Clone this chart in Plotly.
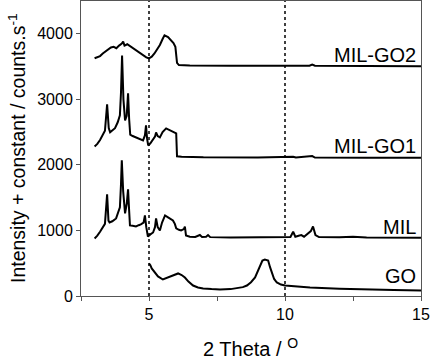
import plotly.graph_objects as go

# ---- data ----
gtheta_go2 = [3.0, 3.1, 3.2, 3.3, 3.45, 3.6, 3.7, 3.8, 3.9, 4.0, 4.05, 4.1, 4.2, 4.3, 4.4, 4.5, 4.6, 4.7, 4.8, 4.9,
              5.0, 5.1, 5.2, 5.3, 5.4, 5.5, 5.57, 5.7, 5.8, 5.9, 5.97, 6.03, 6.1, 6.5, 8.0, 10.0, 10.9, 11.0, 11.1, 13.0, 15.0]
inten_go2 = [3626, 3640, 3660, 3700, 3740, 3790, 3800, 3780, 3820, 3850, 3880, 3820, 3840, 3810, 3790, 3760, 3720, 3690, 3660, 3640,
             3626, 3650, 3700, 3760, 3830, 3920, 3977, 3950, 3910, 3860, 3800, 3555, 3522, 3515, 3512, 3510, 3512, 3530, 3512, 3508, 3505]

gtheta_go1 = [3.0, 3.1, 3.2, 3.3, 3.38, 3.46, 3.52, 3.57, 3.65, 3.75, 3.85, 3.93, 3.97, 4.01, 4.06, 4.12, 4.18, 4.23, 4.27, 4.31,
              4.4, 4.5, 4.6, 4.7, 4.78, 4.85, 4.89, 4.93, 4.97, 5.05, 5.15, 5.22, 5.26, 5.32, 5.4, 5.5, 5.63, 5.75, 5.88, 6.0,
              6.03, 6.2, 7.0, 9.0, 10.3, 10.4, 11.0, 11.1, 13.0, 15.0]
inten_go1 = [2281, 2320, 2380, 2450, 2520, 2923, 2560, 2496, 2520, 2560, 2650, 2756, 3100, 3670, 3000, 2679, 2750, 3092, 2700, 2460,
             2440, 2420, 2404, 2390, 2374, 2450, 2603, 2400, 2297, 2330, 2380, 2430, 2496, 2440, 2420, 2500, 2557, 2530, 2496, 2481,
             2130, 2125, 2115, 2112, 2125, 2112, 2135, 2112, 2110, 2108]

gtheta_mil = [3.0, 3.1, 3.2, 3.3, 3.38, 3.46, 3.51, 3.55, 3.65, 3.79, 3.88, 3.93, 3.97, 4.0, 4.05, 4.12, 4.18, 4.23, 4.27, 4.3,
              4.4, 4.52, 4.62, 4.7, 4.8, 4.85, 4.9, 4.96, 5.05, 5.15, 5.22, 5.26, 5.32, 5.4, 5.48, 5.59, 5.7, 5.8, 5.88, 5.95,
              6.0, 6.1, 6.18, 6.28, 6.32, 6.36, 6.5, 6.7, 6.87, 6.95, 7.1, 7.17, 7.25, 8.0, 9.0, 10.0, 10.2, 10.3, 10.38, 10.5,
              10.6, 10.7, 10.85, 10.95, 11.03, 11.12, 11.25, 12.0, 12.5, 13.0, 15.0]
inten_mil = [878, 920, 980, 1046, 1100, 1550, 1150, 1122, 1140, 1183, 1280, 1351, 1700, 2069, 1600, 1260, 1400, 1626, 1300, 1076,
             1070, 1061, 1080, 1092, 1120, 1229, 1050, 908, 940, 969, 1050, 1183, 1050, 1000, 1120, 1229, 1200, 1180, 1153, 1100,
             1031, 1010, 1000, 1020, 1060, 924, 905, 900, 930, 900, 905, 930, 898, 893, 892, 893, 900, 980, 905, 920,
             930, 905, 960, 990, 1061, 930, 900, 895, 905, 893, 890]

gtheta_go = [5.0, 5.05, 5.1, 5.2, 5.33, 5.51, 5.7, 5.85, 6.07, 6.2, 6.32, 6.45, 6.62, 6.8, 6.99, 7.3, 7.61, 8.0, 8.24, 8.45,
             8.6, 8.75, 8.9, 9.0, 9.08, 9.17, 9.26, 9.38, 9.45, 9.52, 9.6, 9.7, 9.85, 10.0, 10.5, 10.92, 12.0, 12.76, 14.0, 15.0]
inten_go = [496, 470, 420, 360, 298, 252, 280, 313, 344, 320, 282, 220, 160, 130, 115, 105, 99, 105, 115, 135,
            160, 210, 282, 380, 466, 540, 557, 542, 440, 344, 260, 206, 175, 160, 140, 130, 110, 99, 90, 84]

series_names = ["MIL-GO2", "MIL-GO1", "MIL", "GO"]
series_x = [gtheta_go2, gtheta_go1, gtheta_mil, gtheta_go]
series_y = [inten_go2, inten_go1, inten_mil, inten_go]
label_y = [3672, 2282, 1046, 298]

ref_lines = [5, 10]
x_tickvals = [5, 10, 15]
y_tickvals = [0, 1000, 2000, 3000, 4000]

FONT = "Arial, Liberation Sans, Helvetica, sans-serif"

# plot-area geometry in pixels (figure coords)
L, R, T, B = 81, 11, 1, 64
W, H = 432, 360
PW, PH = W - L - R, H - T - B

fig = go.Figure()
for name, xs, ys in zip(series_names, series_x, series_y):
    fig.add_trace(go.Scatter(x=xs, y=ys, mode="lines", name=name,
                             line=dict(color="black", width=2), showlegend=False))

for xv in ref_lines:
    fig.add_shape(type="line", xref="x", yref="paper", x0=xv, x1=xv, y0=0, y1=1,
                  line=dict(color="black", width=1.5, dash="dot"))

for name, ylab in zip(series_names, label_y):
    fig.add_annotation(x=14.9, y=ylab, xref="x", yref="y", text=name, showarrow=False,
                       xanchor="right", yanchor="middle", font=dict(size=20, color="black", family=FONT))

fig.add_annotation(x=(250 - L) / PW, y=(H - B - 348) / PH, xref="paper", yref="paper",
                   xanchor="center", yanchor="middle",
                   text="2 Theta / <sup>O</sup>", showarrow=False, font=dict(size=20, color="black", family=FONT))
fig.add_annotation(x=(17 - L) / PW, y=(H - B - 148) / PH, xref="paper", yref="paper",
                   xanchor="center", yanchor="middle",
                   text="Intensity + constant / counts.s<sup>-1</sup>",
                   showarrow=False, textangle=-90, font=dict(size=19.5, color="black", family=FONT))

axis_common = dict(showgrid=False, zeroline=False, showline=True, linecolor="#555555", linewidth=1,
                   mirror=True, ticks="outside", ticklen=4, tickcolor="#555555",
                   tickfont=dict(size=16, color="black", family=FONT))

fig.update_xaxes(range=[2.5, 15], tickvals=x_tickvals,
                 minor=dict(tick0=0, dtick=2.5, ticks="outside", ticklen=4, tickcolor="#555555"),
                 **axis_common)
fig.update_yaxes(range=[0, 4500], tickvals=y_tickvals, **axis_common)

fig.update_layout(width=W, height=H, margin=dict(l=L, r=R, t=T, b=B),
                  plot_bgcolor="white", paper_bgcolor="white", font=dict(family=FONT))

fig.write_html("out.html", config={"displayModeBar": False},
               post_script="document.body.style.margin='0';")
